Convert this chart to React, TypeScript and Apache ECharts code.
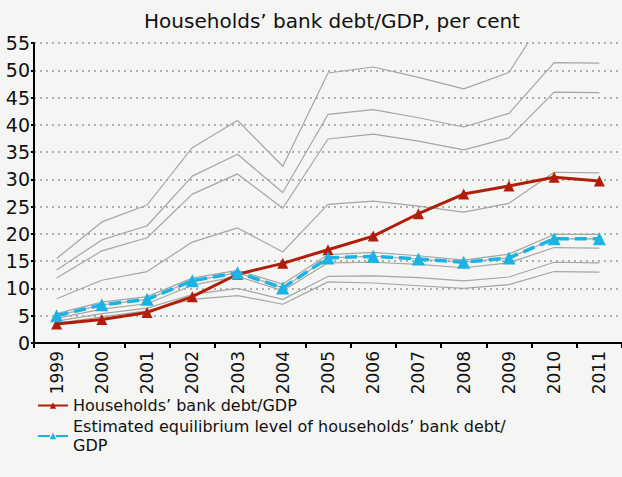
import React, { useEffect, useRef } from "react";
import * as echarts from "echarts";

const years = ["1999","2000","2001","2002","2003","2004","2005","2006","2007","2008","2009","2010","2011"];
const debt = [3.5, 4.3, 5.6, 8.5, 12.6, 14.6, 17.1, 19.6, 23.7, 27.3, 28.8, 30.4, 29.7];
const equilibrium = [5.0, 7.0, 8.0, 11.4, 12.9, 10.1, 15.6, 15.9, 15.4, 14.8, 15.6, 19.1, 19.1];
const grayA = [15.5, 22.2, 25.3, 35.8, 40.8, 32.4, 49.5, 50.6, 48.7, 46.6, 49.6, 62.5, 62.5];
const grayB = [13.4, 18.9, 21.5, 30.6, 34.6, 27.6, 41.9, 42.8, 41.3, 39.6, 42.1, 51.4, 51.3];
const grayC = [11.9, 16.9, 19.3, 27.3, 31.0, 24.7, 37.4, 38.3, 37.0, 35.4, 37.6, 46.0, 45.9];
const grayD = [8.1, 11.5, 13.1, 18.5, 21.1, 16.7, 25.4, 26.0, 25.1, 24.0, 25.6, 31.3, 31.2];
const grayE = [5.4, 7.5, 8.5, 11.9, 13.3, 10.8, 16.2, 16.6, 16.0, 15.2, 16.3, 19.9, 19.9];
const grayF = [4.5, 6.2, 7.2, 10.6, 12.2, 9.6, 14.7, 14.8, 14.4, 13.8, 14.7, 17.5, 17.4];
const grayG = [4.0, 5.4, 6.4, 8.9, 10.0, 8.0, 12.2, 12.3, 12.0, 11.4, 12.1, 14.8, 14.7];
const grayH = [3.6, 4.8, 5.9, 8.0, 8.7, 7.1, 11.2, 11.0, 10.5, 10.0, 10.7, 13.1, 13.0];
const yTicks = { min: 0, max: 55, interval: 5 };

const debtName = "Households’ bank debt/GDP";
const eqName = "Estimated equilibrium level of households’ bank debt/GDP";
const FONT = "DejaVu Sans";

export default function App() {
  const ref = useRef<HTMLDivElement>(null);
  useEffect(() => {
    if (!ref.current) return;
    const chart = echarts.init(ref.current, null, { renderer: "svg" });
    const grayLine = (data: number[]) => ({
      type: "line",
      data,
      symbol: "none",
      silent: true,
      lineStyle: { color: "#a5a5a5", width: 1.2 },
      z: 1,
    });
    chart.setOption({
      animation: false,
      backgroundColor: "#f5f5f3",
      textStyle: { fontFamily: FONT },
      title: {
        text: "Households’ bank debt/GDP, per cent",
        left: 327,
        textAlign: "center",
        top: 6,
        textStyle: { fontFamily: FONT, fontSize: 20, fontWeight: "normal", color: "#111" },
      },
      grid: { left: 34, right: 0, top: 43, bottom: 134, containLabel: false },
      legend: {
        orient: "vertical",
        left: 32,
        top: 391,
        itemGap: 2,
        itemWidth: 30,
        itemHeight: 8,
        data: [debtName, eqName],
        textStyle: { fontFamily: FONT, fontSize: 16, color: "#111", lineHeight: 19 },
        formatter: (n: string) => (n === eqName ? "Estimated equilibrium level of households’ bank debt/\nGDP" : n),
      },
      xAxis: {
        type: "category",
        data: years,
        boundaryGap: true,
        axisLine: { lineStyle: { color: "#000", width: 2 } },
        axisTick: { show: true, length: 5, lineStyle: { color: "#000", width: 2 } },
        axisLabel: { rotate: 90, fontFamily: FONT, fontSize: 17, color: "#111", margin: 8 },
      },
      yAxis: {
        type: "value",
        min: yTicks.min,
        max: yTicks.max,
        interval: yTicks.interval,
        axisLine: { show: true, lineStyle: { color: "#000", width: 2 } },
        axisTick: { show: true, length: 3, lineStyle: { color: "#000", width: 2 } },
        axisLabel: { fontFamily: FONT, fontSize: 19, color: "#111", margin: 4 },
        splitLine: { lineStyle: { color: "#999", type: [2, 4], width: 1.5 } },
      },
      series: [
        grayLine(grayA),
        grayLine(grayB),
        grayLine(grayC),
        grayLine(grayD),
        grayLine(grayE),
        grayLine(grayF),
        grayLine(grayG),
        grayLine(grayH),
        grayLine(equilibrium),
        {
          name: debtName,
          type: "line",
          data: debt,
          symbol: "triangle",
          symbolSize: 11,
          itemStyle: { color: "#b01e0a" },
          lineStyle: { color: "#b01e0a", width: 3 },
          z: 3,
        },
        {
          name: eqName,
          type: "line",
          data: equilibrium,
          symbol: "triangle",
          symbolSize: 13,
          itemStyle: { color: "#19b3e4" },
          lineStyle: { color: "#19b3e4", width: 3.5, type: [12, 6] },
          z: 4,
        },
      ],
    });
    return () => chart.dispose();
  }, []);
  return <div ref={ref} style={{ width: 622, height: 477, position: "absolute", left: 0, top: 0 }} />;
}
